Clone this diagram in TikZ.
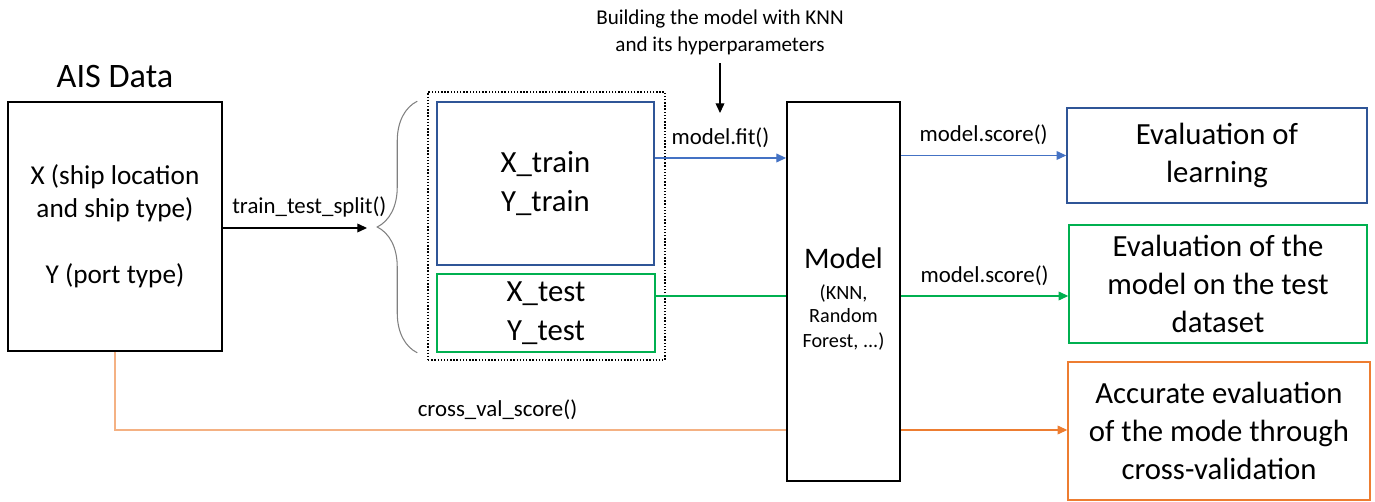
\documentclass[tikz,border=0pt]{standalone}
\usepackage{fontspec}
\setmainfont{Carlito}
\usetikzlibrary{arrows.meta,positioning,decorations.pathreplacing}
\definecolor{boxblue}{HTML}{2F5597}
\definecolor{lineblue}{HTML}{4472C4}
\definecolor{okgreen}{HTML}{00B050}
\definecolor{cvorange}{HTML}{ED7D31}
\newcommand{\smallmodel}{\fontsize{11.5}{12.8}\selectfont}
\tikzset{
    %Define standard arrow tip
    >={Triangle[length=5.5pt,width=5pt]},
    %Define style for data boxes
    block/.style={rectangle, draw=black, line width=1.1pt, inner sep=0pt, align=center},
    %Define style for split boxes
    part/.style={rectangle, line width=0.9pt, inner sep=0pt, align=center, font=\fontsize{17.5}{22}\selectfont},
    %Define style for result boxes
    result/.style={rectangle, line width=0.9pt, inner sep=0pt, align=center, font=\fontsize{17.5}{21.5}\selectfont},
    %Define style for connector labels
    lbl/.style={font=\fontsize{13}{15}\selectfont, inner sep=0pt, text=black},
    link/.style={line width=0.6pt},
}

\begin{document}
\begin{tikzpicture}[x=0.02cm,y=-0.02cm]
    \useasboundingbox (0,0) rectangle (1375,502);

    \node[block, minimum width=4.28cm, minimum height=4.98cm, font=\fontsize{15.5}{18.7}\selectfont](ais) at (115,226.5){X (ship location\\and ship type)\\[18.7pt]Y (port type)};
    \node[font=\fontsize{19.5}{22}\selectfont](aistitle) at (115,77){AIS Data};

    \node[rectangle, draw, densely dotted, line width=0.8pt, minimum width=4.74cm, minimum height=5.36cm](split) at (546.5,226){};
    \node[part, draw=boxblue, minimum width=4.34cm, minimum height=3.26cm](train) at (545.5,183.5){X\_train\\Y\_train};
    \node[part, draw=okgreen, minimum width=4.36cm, minimum height=1.56cm](test) at (546,313){X\_test\\Y\_test};

    \node[block, minimum width=2.26cm, minimum height=7.58cm, font=\fontsize{17}{20}\selectfont](model) at (843.5,291.5){\mbox{}\\[0pt]Model\\[-2pt]\smallmodel (KNN,\\[-7pt]\smallmodel Random\\[-6pt]\smallmodel Forest, ...)};

    \node[result, draw=boxblue, minimum width=6cm, minimum height=1.9cm](evallearn) at (1217,155.5){Evaluation of\\learning};
    \node[result, draw=okgreen, minimum width=5.96cm, minimum height=2.36cm](evaltest) at (1218,284){Evaluation of the\\model on the test\\dataset};
    \node[result, draw=cvorange, minimum width=6.04cm, minimum height=2.76cm](evalcv) at (1219,431){Accurate evaluation\\of the mode through\\cross-validation};

    \node[font=\fontsize{12}{15.3}\selectfont, align=center](hyper) at (720,32){Building the model with KNN\\and its hyperparameters};

    \coordinate (bracetip) at (367,228);
    \coordinate (fitin) at (720,113);
    \coordinate (fity) at (720,158);
    \coordinate (testy) at (983,296);
    \coordinate (cvcorner) at (115,430);

    \draw[decorate, decoration={brace, amplitude=0.8cm}, draw=gray, line width=0.6pt] ([xshift=-0.38cm]test.south west) -- ([xshift=-0.38cm]train.north west);

    \draw[link, ->] (ais.east |- bracetip) -- node[lbl, pos=0.6, above=0.2cm]{train\_test\_split()} (bracetip);
    \draw[link, ->] ([yshift=-0.05cm]hyper.south) -- (fitin);
    \draw[link, lineblue, ->] (train.east |- fity) -- node[lbl, above=0.2cm]{model.fit()} (model.west |- fity);
    \draw[link, lineblue, ->] (model.east |- evallearn.west) -- node[lbl, above=0.2cm]{model.score()} (evallearn.west);
    \draw[link, okgreen] (test.east |- testy) -- (model.west |- testy);
    \draw[link, okgreen, ->] (model.east |- testy) -- node[lbl, above=0.2cm]{model.score()} (evaltest.west |- testy);
    \draw[link, cvorange!60!white] (ais.south) -- (cvcorner) -- node[lbl, pos=0.57, above=0.2cm]{cross\_val\_score()} (model.west |- cvcorner);
    \draw[link, cvorange, ->] (model.east |- cvcorner) -- (evalcv.west |- cvcorner);
\end{tikzpicture}
\end{document}
